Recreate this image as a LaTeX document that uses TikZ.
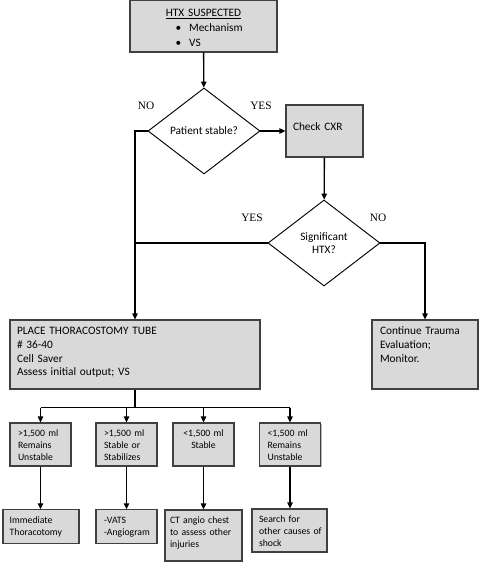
\documentclass[tikz,border=0pt]{standalone}
\usepackage{fontspec}
\setmainfont{Carlito}
\newfontfamily\serifyn{Liberation Serif}
\usetikzlibrary{arrows.meta,shapes.geometric,shadows}

\begin{document}
\begin{tikzpicture}[
            x=0.75pt, y=-0.75pt,
            >={Triangle[length=4.5pt,width=4pt]},
            flow/.style = {line width=1pt},
            box/.style = {rectangle, draw=black!75, line width=0.8pt, fill=gray!30, align=left, inner ysep=0pt, font=\fontsize{8.5}{10.3}\selectfont, drop shadow={shadow xshift=0.9pt, shadow yshift=-0.9pt, fill=black!55}},
            smallbox/.style = {box, font=\fontsize{7.3}{9}\selectfont},
            outcome/.style = {smallbox, text width=33.75pt, inner xsep=6pt, text height=10.1pt, text depth=22.15pt},
            decision/.style = {diamond, draw, line width=0.7pt, fill=white, inner sep=0pt, minimum width=84pt, minimum height=64.5pt, align=center, font=\fontsize{8.5}{10.3}\selectfont},
            yesno/.style = {font=\serifyn\fontsize{8.5}{9}\selectfont}
        ]
        \useasboundingbox (0,0) rectangle (480,563);

        % Sospecha inicial
        \node [box, text width=110.25pt, inner xsep=0pt, align=center, text height=12.4pt, text depth=26.6pt, font=\fontsize{8.5}{11.25}\selectfont] (htx) at (203.5,26) {\underline{HTX SUSPECTED}\\\makebox[42pt][l]{\textbullet\hspace{6pt}Mechanism}\\\makebox[42pt][l]{\textbullet\hspace{6pt}VS}};

        % Decisiones
        \node [decision] (stable) at (204,131) {Patient stable?};
        \node [box, text width=47.25pt, inner xsep=5.25pt, text height=19.1pt, text depth=19.9pt] (cxr) at (324.5,131) {Check CXR};
        \node [decision] (sig) at (324,243) {Significant\\HTX?};

        % Tubo y seguimiento
        \node [box, text width=177pt, inner xsep=5.25pt, text height=10.9pt, text depth=40.85pt] (tube) at (135,354.5) {PLACE THORACOSTOMY TUBE\\\# 36-40\\Cell Saver\\Assess initial output; VS};
        \node [box, text width=67.5pt, inner xsep=6pt, text height=10.9pt, text depth=40.85pt] (trauma) at (425,354.5) {Continue Trauma\\Evaluation;\\Monitor.};

        % Resultados del drenaje
        \node [outcome] (outA) at (40.5,444.5) {>1,500 ml\\Remains\\Unstable};
        \node [outcome] (outB) at (126.5,444.5) {>1,500 ml\\Stable or\\Stabilizes};
        \node [outcome, align=center] (outC) at (203.5,444.5) {<1,500 ml\\Stable};
        \node [outcome] (outD) at (290,444.5) {<1,500 ml\\Remains\\Unstable};

        % Conductas
        \node [smallbox, text width=47pt, inner xsep=5pt, text height=10.1pt, text depth=14.9pt] (actA) at (41,526.5) {Immediate\\Thoracotomy};
        \node [smallbox, text width=33.75pt, inner xsep=6pt, text height=10.1pt, text depth=14.9pt] (actB) at (126.5,526.5) {\mbox{-VATS}\\\mbox{-Angiogram}};
        \node [smallbox, text width=50.25pt, inner xsep=3.75pt, text height=10.1pt, text depth=28.15pt] (actC) at (203.5,535.5) {\mbox{CT angio chest}\\\mbox{to assess other}\\injuries};
        \node [smallbox, text width=45.75pt, inner xsep=5.25pt, text height=10.1pt, text depth=22.15pt] (actD) at (289.5,530.5) {Search for\\\mbox{other causes of}\\shock};

        % Etiquetas
        \node [yesno] (no1) at (146,106) {NO};
        \node [yesno] (yes1) at (261,106) {YES};
        \node [yesno] (yes2) at (252,218) {YES};
        \node [yesno] (no2) at (378,218) {NO};

        % Flechas de flujo
        \draw [flow,->] (htx) -- (stable);
        \draw [flow,->] (stable.west) -| (tube.north);
        \draw [flow,->] (stable) -- (cxr);
        \draw [flow,->] (cxr) -- (sig);
        \draw [flow] (sig.west) -- (sig.west -| tube.north);
        \draw [flow,->] (sig.east) -| (trauma.north);

        \coordinate (bus) at ([yshift=-13.5pt]tube.south);
        \draw [flow] (tube.south) -- (bus);
        \draw [flow] (bus -| outA.north) -- (bus -| outD.north);
        \foreach \o in {outA,outB,outC,outD}
            \draw [flow,->] (bus -| \o.north) -- (\o.north);
        \foreach \o/\a in {outA/actA,outB/actB,outC/actC,outD/actD}
            \draw [flow,->] (\o.south) -- (\o.south |- \a.north);

    \end{tikzpicture}
\end{document}
